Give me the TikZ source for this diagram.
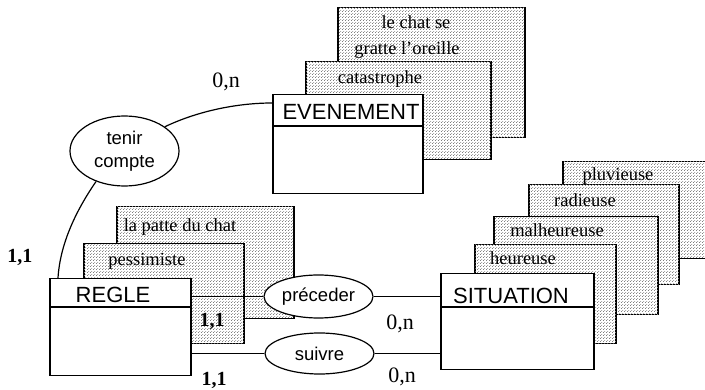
\documentclass[tikz,border=0pt]{standalone}
\usepackage{fontspec}
\setmainfont{Liberation Serif}
\newfontfamily\arialf{Liberation Sans}
\usetikzlibrary{patterns,shapes.geometric}
\pgfdeclarepatternformonly{mydots}{\pgfqpoint{0pt}{0pt}}{\pgfqpoint{3pt}{3pt}}{\pgfqpoint{3pt}{3pt}}{%
  \pgfpathrectangle{\pgfqpoint{0pt}{0pt}}{\pgfqpoint{1pt}{1pt}}%
  \pgfpathrectangle{\pgfqpoint{1.5pt}{1.5pt}}{\pgfqpoint{1.2pt}{0.8pt}}\pgfusepath{fill}}
\begin{document}
\begin{tikzpicture}[x=1pt,y=-1pt,
  shadebox/.style={draw,line width=1.5pt,fill=white,postaction={pattern=mydots,pattern color=black!50},
    anchor=north west,inner sep=0pt},
  entbox/.style={draw,line width=1.5pt,fill=white,anchor=north west,inner sep=0pt},
  relell/.style={draw,ellipse,line width=1.2pt,fill=white,inner sep=0pt,
    font=\arialf\fontsize{18.5}{23}\selectfont,align=center},
  enttxt/.style={anchor=base,inner sep=0pt,font=\arialf\fontsize{22}{24}\selectfont},
  valtxt/.style={anchor=base,inner sep=0pt,font=\fontsize{18.5}{20}\selectfont},
  cardb/.style={anchor=base,inner sep=0pt,font=\bfseries\fontsize{20}{22}\selectfont},
  cardn/.style={anchor=base,inner sep=0pt,font=\fontsize{22}{24}\selectfont},
  link/.style={line width=1.2pt}]
\useasboundingbox (0,0) rectangle (705,390);

% EVENEMENT stack
\node[shadebox,minimum width=187pt,minimum height=130pt] (chat) at (337,7) {};
\node[valtxt] (tchat1) at (416,29) {le chat se};
\node[valtxt] (tchat2) at (407,55) {gratte l'oreille};
\node[shadebox,minimum width=185pt,minimum height=98pt] (cata) at (305,61) {};
\node[valtxt] (tcata) at (380,84) {catastrophe};
\node[entbox,minimum width=150pt,minimum height=99pt] (even) at (272,94) {};
\draw[line width=1.5pt] (272,126) -- (422,126);
\node[enttxt] (teven) at (351,120) {EVENEMENT};

% SITUATION stack
\node[shadebox,minimum width=143pt,minimum height=97pt] (pluv) at (562,161) {};
\node[valtxt] (tpluv) at (618,181) {pluvieuse};
\node[shadebox,minimum width=150pt,minimum height=100pt] (radi) at (528,184) {};
\node[valtxt] (tradi) at (585,207) {radieuse};
\node[shadebox,minimum width=164pt,minimum height=98pt] (malh) at (493,216) {};
\node[valtxt] (tmalh) at (557,237) {malheureuse};
\node[shadebox,minimum width=141pt,minimum height=99pt] (heur) at (474,244) {};
\node[valtxt] (theur) at (523,265) {heureuse};
\node[entbox,minimum width=153pt,minimum height=96pt] (sit) at (440,273) {};
\draw[line width=1.5pt] (440,307) -- (593,307);
\node[enttxt] (tsit) at (511,304) {SITUATION};

% REGLE stack
\node[shadebox,minimum width=177pt,minimum height=112pt] (patte) at (116,206) {};
\node[valtxt] (tpatte) at (180,232) {la patte du chat};
\node[shadebox,minimum width=160pt,minimum height=100pt] (pess) at (83,243) {};
\node[valtxt] (tpess) at (147,266) {pessimiste};
\node[entbox,minimum width=141pt,minimum height=97pt] (regle) at (49,278) {};
\draw[line width=1.5pt] (49,307) -- (190,307);
\node[enttxt] (tregle) at (113,303) {REGLE};

% relations
\node[relell,minimum width=109pt,minimum height=70pt] (tenir) at (124.5,151) {tenir\\compte};
\node[relell,minimum width=109pt,minimum height=43pt] (prec) at (318.5,296.5) {préceder};
\node[relell,minimum width=109pt,minimum height=41pt] (suiv) at (319.5,353.5) {suivre};

% connectors
\coordinate (regtop) at (58,278);
\coordinate (evleft) at (272,103);
\draw[link] (tenir.31) .. controls (200,110) and (240,103) .. (evleft);
\draw[link] (tenir.227) .. controls (75,212) and (60,245) .. (regtop);
\draw[link] (regle.east |- prec.west) -- (prec.west);
\draw[link] (prec.east) -- (sit.west |- prec.east);
\draw[link] (regle.east |- suiv.west) -- (suiv.west);
\draw[link] (suiv.east) -- (sit.west |- suiv.east);

% cardinalities
\node[cardb] (c1) at (20,263) {1,1};
\node[cardb] (c2) at (212,327) {1,1};
\node[cardb] (c3) at (214,385) {1,1};
\node[cardn] (n1) at (226,88) {0,n};
\node[cardn] (n2) at (400,330) {0,n};
\node[cardn] (n3) at (402,383) {0,n};
\end{tikzpicture}
\end{document}
